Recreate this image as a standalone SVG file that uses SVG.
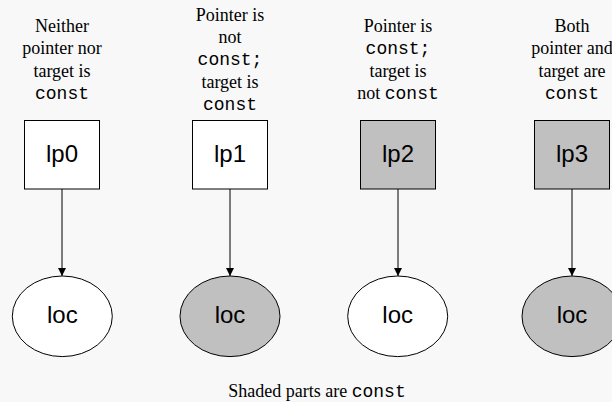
<svg xmlns="http://www.w3.org/2000/svg" width="612" height="402" viewBox="0 0 612 402">
<style>
.bg{fill:#f8f8f8}
.box{stroke:#000;stroke-width:1}
.w{fill:#fff}
.g{fill:#c0c0c0}
.lbl{font-family:"Liberation Sans",Arial,sans-serif;font-size:24px;fill:#000;text-anchor:middle}
.cap{font-family:"Liberation Serif","Times New Roman",serif;font-size:18px;fill:#000;text-anchor:middle}
.mono{font-family:"Liberation Mono","Courier New",monospace;font-size:18px}
.edge{stroke:#000;stroke-width:1;fill:none}
</style>
<defs>
<marker id="arr" viewBox="0 0 8 8" refX="8" refY="4" markerWidth="8" markerHeight="8" markerUnits="userSpaceOnUse" orient="auto">
<path d="M0,0 L8,4 L0,8 Z" fill="#000"/>
</marker>
</defs>
<rect class="bg" x="0" y="0" width="612" height="402"/>

<g id="captions">
<text class="cap" x="62" y="32">Neither</text>
<text class="cap" x="62" y="54.3">pointer nor</text>
<text class="cap" x="62" y="76.6">target is</text>
<text class="cap mono" x="62" y="98.9">const</text>

<text class="cap" x="230" y="20.7">Pointer is</text>
<text class="cap" x="230" y="43">not</text>
<text class="cap mono" x="230" y="65.3">const;</text>
<text class="cap" x="230" y="87.6">target is</text>
<text class="cap mono" x="230" y="109.9">const</text>

<text class="cap" x="398" y="32">Pointer is</text>
<text class="cap mono" x="398" y="54.3">const;</text>
<text class="cap" x="398" y="76.6">target is</text>
<text class="cap" x="398" y="98.9">not <tspan class="mono">const</tspan></text>

<text class="cap" x="572" y="32">Both</text>
<text class="cap" x="572" y="54.3">pointer and</text>
<text class="cap" x="572" y="76.6">target are</text>
<text class="cap mono" x="572" y="98.9">const</text>
</g>

<g id="connectors">
<line class="edge" x1="62" y1="189" x2="62" y2="276" marker-end="url(#arr)"/>
<line class="edge" x1="230" y1="189" x2="230" y2="276" marker-end="url(#arr)"/>
<line class="edge" x1="398" y1="189" x2="398" y2="276" marker-end="url(#arr)"/>
<line class="edge" x1="572" y1="189" x2="572" y2="276" marker-end="url(#arr)"/>
</g>

<g id="lp0">
<rect class="box w" x="24.5" y="120.5" width="75" height="68.5"/>
<text class="lbl" x="62" y="162.3">lp0</text>
</g>
<g id="lp1">
<rect class="box w" x="192.5" y="120.5" width="75" height="68.5"/>
<text class="lbl" x="230" y="162.3">lp1</text>
</g>
<g id="lp2">
<rect class="box g" x="360.5" y="120.5" width="75" height="68.5"/>
<text class="lbl" x="398" y="162.3">lp2</text>
</g>
<g id="lp3">
<rect class="box g" x="534.5" y="120.5" width="75" height="68.5"/>
<text class="lbl" x="572" y="162.3">lp3</text>
</g>

<g id="loc0">
<ellipse class="box w" cx="62.3" cy="316.3" rx="50" ry="40.3"/>
<text class="lbl" x="62.3" y="323.3">loc</text>
</g>
<g id="loc1">
<ellipse class="box g" cx="230" cy="316.3" rx="50" ry="40.3"/>
<text class="lbl" x="230" y="323.3">loc</text>
</g>
<g id="loc2">
<ellipse class="box w" cx="397.7" cy="316.3" rx="50" ry="40.3"/>
<text class="lbl" x="397.7" y="323.3">loc</text>
</g>
<g id="loc3">
<ellipse class="box g" cx="572" cy="316.3" rx="50" ry="40.3"/>
<text class="lbl" x="572" y="323.3">loc</text>
</g>

<g id="footer">
<text class="cap" x="317" y="396.7">Shaded parts are <tspan class="mono">const</tspan></text>
</g>
</svg>
